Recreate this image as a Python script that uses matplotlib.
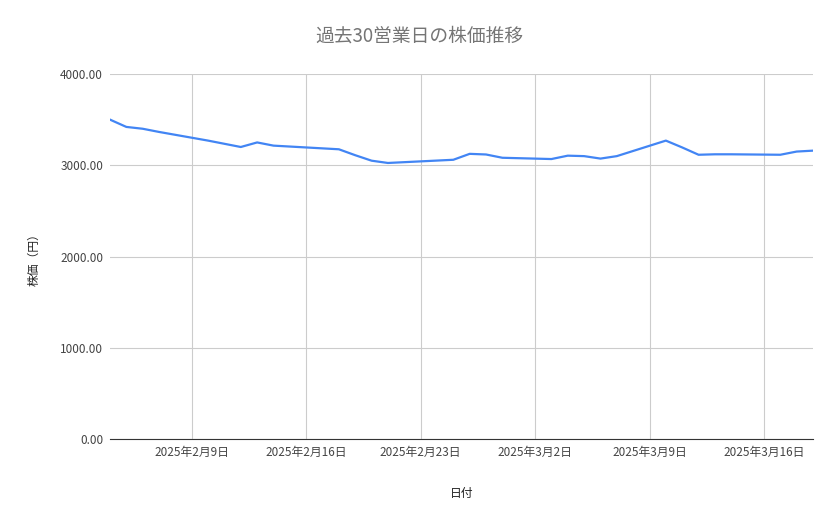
import matplotlib
matplotlib.use("Agg")
import matplotlib.pyplot as plt
import matplotlib.dates as mdates
import pandas as pd

plt.rcParams['font.family'] = ['Noto Sans CJK JP', 'DejaVu Sans']

dates = ["2025-02-04","2025-02-05","2025-02-06","2025-02-07","2025-02-10","2025-02-12","2025-02-13",
         "2025-02-14","2025-02-17","2025-02-18","2025-02-19","2025-02-20","2025-02-21","2025-02-25",
         "2025-02-26","2025-02-27","2025-02-28","2025-03-03","2025-03-04","2025-03-05","2025-03-06",
         "2025-03-07","2025-03-10","2025-03-11","2025-03-12","2025-03-13","2025-03-14","2025-03-17",
         "2025-03-18","2025-03-19"]
prices = [3500,3420,3400,3365,3270,3200,3250,3215,3185,3175,3110,3050,3025,3060,3125,3118,3082,
          3068,3105,3100,3073,3100,3270,3195,3115,3120,3120,3115,3150,3160]
xticks = ["2025-02-09","2025-02-16","2025-02-23","2025-03-02","2025-03-09","2025-03-16"]
xticklabels = ["2025年2月9日","2025年2月16日","2025年2月23日","2025年3月2日","2025年3月9日","2025年3月16日"]

d = pd.to_datetime(dates)
fig = plt.figure(figsize=(8.39,5.19), dpi=100)
ax = fig.add_axes([110/839, 1-439/519, (813-110)/839, (439-74)/519])
ax.plot(d, prices, color='#4285f4', lw=1.6)
ax.set_ylim(0,4000)
ax.set_xlim(d[0], d[-1])
ax.set_yticks([0,1000,2000,3000,4000])
ax.set_yticklabels([f"{v:.2f}" for v in [0,1000,2000,3000,4000]])
ax.set_xticks(pd.to_datetime(xticks))
ax.set_xticklabels(xticklabels)
ax.grid(True, color='#cccccc', lw=0.8)
ax.set_axisbelow(True)
for s in ['top','right','left']:
    ax.spines[s].set_visible(False)
ax.spines['bottom'].set_color('#333333')
ax.tick_params(length=0, labelsize=8.5, colors='#444444', pad=5)
ax.set_xlabel("日付", fontsize=8.5, color='#222222', labelpad=20)
ax.set_ylabel("株価（円）", fontsize=8.5, color='#222222', labelpad=14)
fig.text(0.5, 1-36/519, "過去30営業日の株価推移", ha='center', va='center', fontsize=13.5, color='#757575')
fig.savefig("out.png", dpi=100)
